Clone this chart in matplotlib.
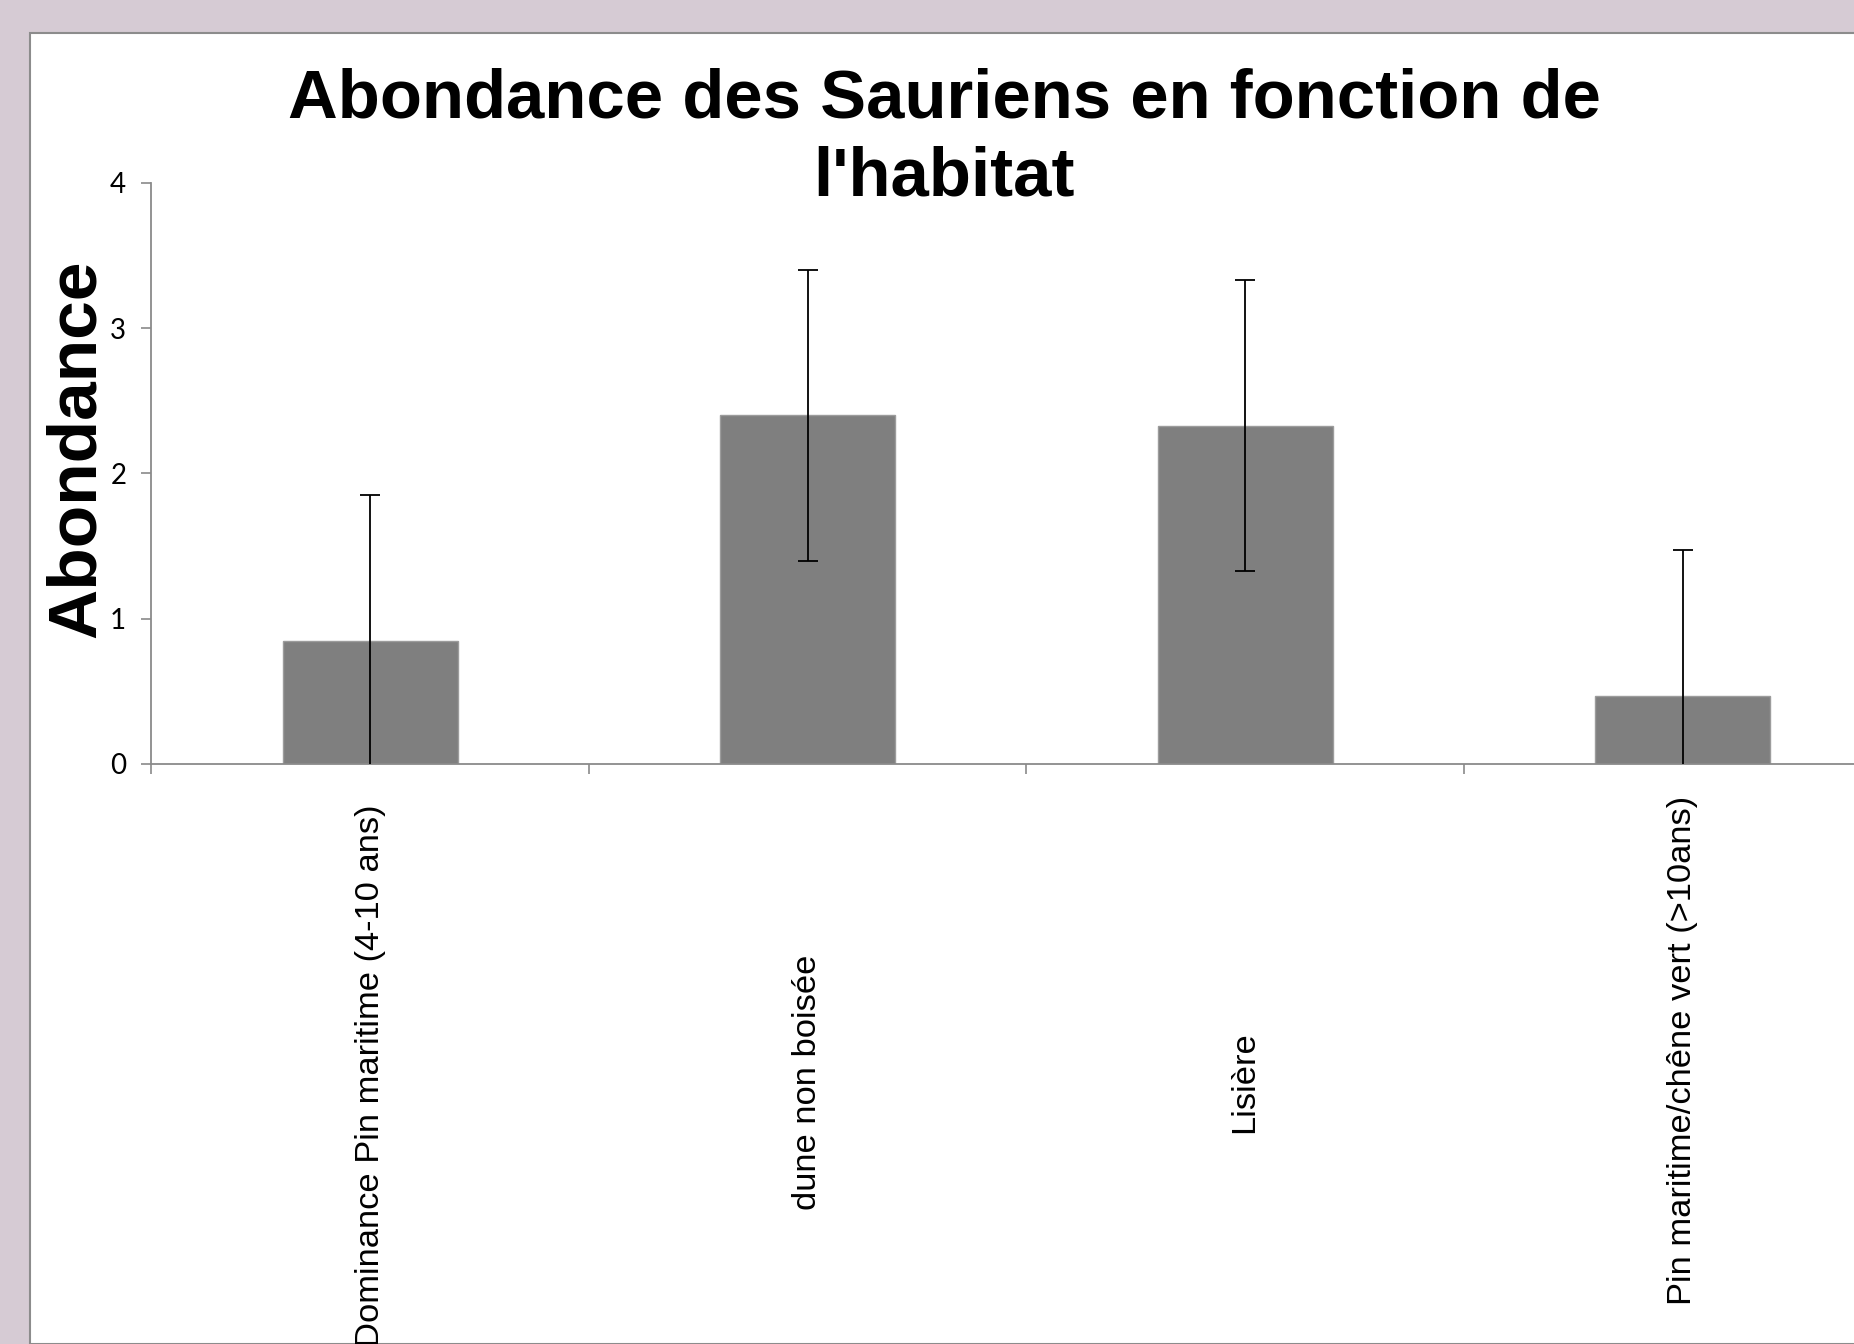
import matplotlib
matplotlib.use("Agg")
import matplotlib.pyplot as plt
from matplotlib.patches import Rectangle
import numpy as np

# data
categories = ["Dominance Pin maritime (4-10 ans)", "dune non boisée",
              "Lisière", "Pin maritime/chêne vert (>10ans)"]
abondance = [0.85, 2.40, 2.33, 0.47]
erreur = [1.0, 1.0, 1.0, 1.0]
yticks = [0, 1, 2, 3, 4]

W, H = 1854, 1344
fig = plt.figure(figsize=(W / 100, H / 100), dpi=100)
fig.patch.set_facecolor("#d6cbd4")

# white chart area (cropped screenshot: runs off right and bottom)
panel = Rectangle((30 / W, 0), 1.0, 1 - 33 / H, transform=fig.transFigure,
                  facecolor="white", edgecolor="#8c8c8c", linewidth=1.5, zorder=-5)
fig.patches.append(panel)

ax = fig.add_axes([151.3 / W, 580 / H, 1750 / W, 581 / H])
ax.set_facecolor("none")
ax.set_zorder(2)

x = np.arange(len(categories))
ax.bar(x, abondance, width=0.4, color="#7f7f7f", edgecolor="#9c9c9c", linewidth=1, zorder=2)
ax.errorbar(x, abondance, yerr=erreur, fmt="none", ecolor="black", elinewidth=1.3,
            capsize=7, capthick=1.3, zorder=3)

ax.set_xlim(-0.5, len(categories) - 0.5)
ax.set_ylim(0, 4)

for s in ["top", "right"]:
    ax.spines[s].set_visible(False)
for s in ["left", "bottom"]:
    ax.spines[s].set_color("#8a8a8a")
    ax.spines[s].set_linewidth(1.3)

ax.set_yticks(yticks)
ax.set_yticklabels([str(v) for v in yticks], fontfamily="Lato", fontsize=20)
ax.tick_params(axis="y", length=7, width=1.2, color="#8a8a8a", pad=11)

ax.set_xticks(x)
ax.set_xticks(np.arange(len(categories) + 1) - 0.5, minor=True)
ax.tick_params(axis="x", which="major", length=0)
ax.tick_params(axis="x", which="minor", length=7, width=1.2, color="#8a8a8a")
labels = ax.set_xticklabels(categories, rotation=90, fontfamily="Liberation Sans",
                            fontsize=24.8, va="center", ha="center")
label_y = [-0.528, -0.539, -0.539, -0.485]
for lab, yy in zip(labels, label_y):
    lab.set_y(yy)

fig.text(944 / W, 1 - 138 / H, "Abondance des Sauriens en fonction de\nl'habitat",
         ha="center", va="center", fontfamily="Liberation Sans", fontweight="bold",
         fontsize=49.6, linespacing=1.28)
fig.text(77 / W, 1 - 449 / H, "Abondance", rotation=90, ha="center", va="center",
         fontfamily="Liberation Sans", fontweight="bold", fontsize=50)

fig.savefig("out.png", dpi=100, facecolor=fig.get_facecolor())
